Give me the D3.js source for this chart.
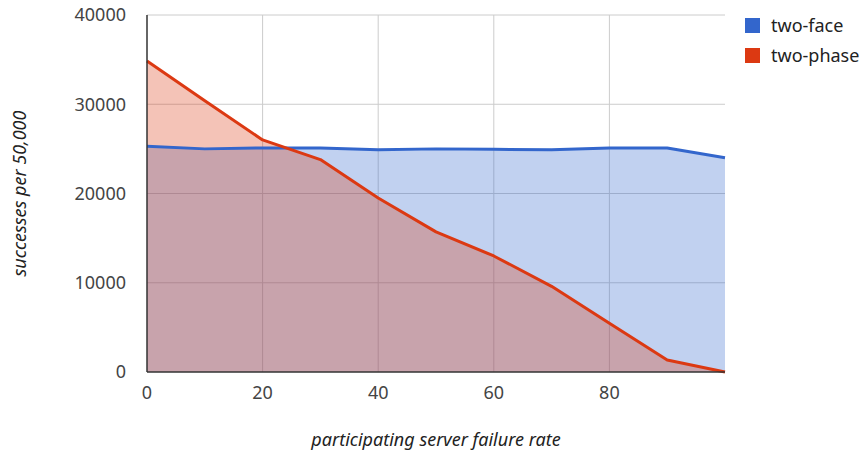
<!DOCTYPE html>
<html>
<head>
<meta charset="utf-8">
<script src="https://cdn.jsdelivr.net/npm/d3@7"></script>
<style>
  body { margin: 0; background: #fff; }
  svg text { font-family: "Noto Sans", "Open Sans", sans-serif; }
</style>
</head>
<body>
<div id="chart"></div>
<script>
// Data
const failureRate = [0, 10, 20, 30, 40, 50, 60, 70, 80, 90, 100];
const twoFace = [25300, 25000, 25100, 25100, 24900, 25000, 24950, 24900, 25100, 25100, 24000];
const twoPhase = [34850, 30400, 26000, 23800, 19500, 15700, 13000, 9600, 5450, 1350, 0];
const xTicks = [0, 20, 40, 60, 80];
const yTicks = [0, 10000, 20000, 30000, 40000];
const seriesNames = ['two-face', 'two-phase'];

const colorMap = { 'two-face': '#3366cc', 'two-phase': '#dc3912' };

const width = 863, height = 456;
const margin = { top: 15, right: 138, bottom: 84, left: 147 };

const svg = d3.select('#chart')
    .append('svg')
    .attr('width', width)
    .attr('height', height);

const x = d3.scaleLinear()
    .domain([0, 100])
    .range([margin.left, width - margin.right]);

const y = d3.scaleLinear()
    .domain([0, 40000])
    .range([height - margin.bottom, margin.top]);

// Gridlines
svg.append('g')
    .selectAll('line.hgrid')
    .data(yTicks.filter(d => d > 0))
    .join('line')
    .attr('x1', x(0)).attr('x2', x(100))
    .attr('y1', d => y(d)).attr('y2', d => y(d))
    .attr('stroke', '#cccccc').attr('stroke-width', 1);

svg.append('g')
    .selectAll('line.vgrid')
    .data(xTicks.filter(d => d > 0))
    .join('line')
    .attr('x1', d => x(d)).attr('x2', d => x(d))
    .attr('y1', y(0)).attr('y2', y(40000))
    .attr('stroke', '#cccccc').attr('stroke-width', 1);

// Build series
const series = [
    { name: 'two-face', values: twoFace },
    { name: 'two-phase', values: twoPhase }
];

const area = d3.area()
    .x((d, i) => x(failureRate[i]))
    .y0(y(0))
    .y1(d => y(d));

const line = d3.line()
    .x((d, i) => x(failureRate[i]))
    .y(d => y(d));

svg.append('g')
    .selectAll('path.area')
    .data(series)
    .join('path')
    .attr('d', d => area(d.values))
    .attr('fill', d => colorMap[d.name])
    .attr('fill-opacity', 0.3);

svg.append('g')
    .selectAll('path.line')
    .data(series)
    .join('path')
    .attr('d', d => line(d.values))
    .attr('fill', 'none')
    .attr('stroke', d => colorMap[d.name])
    .attr('stroke-width', 3)
    .attr('stroke-linejoin', 'round');

// Axes lines
svg.append('line')
    .attr('x1', x(0)).attr('x2', x(100))
    .attr('y1', y(0)).attr('y2', y(0))
    .attr('stroke', '#333').attr('stroke-width', 1.5);
svg.append('line')
    .attr('x1', x(0)).attr('x2', x(0))
    .attr('y1', y(0)).attr('y2', y(40000))
    .attr('stroke', '#333').attr('stroke-width', 1.5);

// Tick labels
svg.append('g')
    .selectAll('text')
    .data(yTicks)
    .join('text')
    .attr('x', x(0) - 21)
    .attr('y', d => y(d))
    .attr('dy', '0.35em')
    .attr('text-anchor', 'end')
    .attr('font-size', 18)
    .attr('fill', '#444')
    .text(d => d);

svg.append('g')
    .selectAll('text')
    .data(xTicks)
    .join('text')
    .attr('x', d => x(d))
    .attr('y', y(0) + 21)
    .attr('dy', '0.35em')
    .attr('text-anchor', 'middle')
    .attr('font-size', 18)
    .attr('fill', '#444')
    .text(d => d);

// Axis titles
svg.append('text')
    .attr('x', 436)
    .attr('y', 440)
    .attr('dy', '0.35em')
    .attr('text-anchor', 'middle')
    .attr('font-size', 18)
    .attr('font-style', 'italic')
    .attr('fill', '#222')
    .text('participating server failure rate');

svg.append('text')
    .attr('transform', `translate(20,${(y(0) + y(40000)) / 2}) rotate(-90)`)
    .attr('dy', '0.35em')
    .attr('text-anchor', 'middle')
    .attr('font-size', 18)
    .attr('font-style', 'italic')
    .attr('fill', '#222')
    .text('successes per 50,000');

// Legend
const legend = svg.append('g')
    .selectAll('g')
    .data(seriesNames)
    .join('g')
    .attr('transform', (d, i) => `translate(745,${18 + i * 30})`);

legend.append('rect')
    .attr('width', 15).attr('height', 15)
    .attr('fill', d => colorMap[d]);

legend.append('text')
    .attr('x', 26)
    .attr('y', 7.5)
    .attr('dy', '0.35em')
    .attr('font-size', 18)
    .attr('fill', '#222')
    .text(d => d);
</script>
</body>
</html>
